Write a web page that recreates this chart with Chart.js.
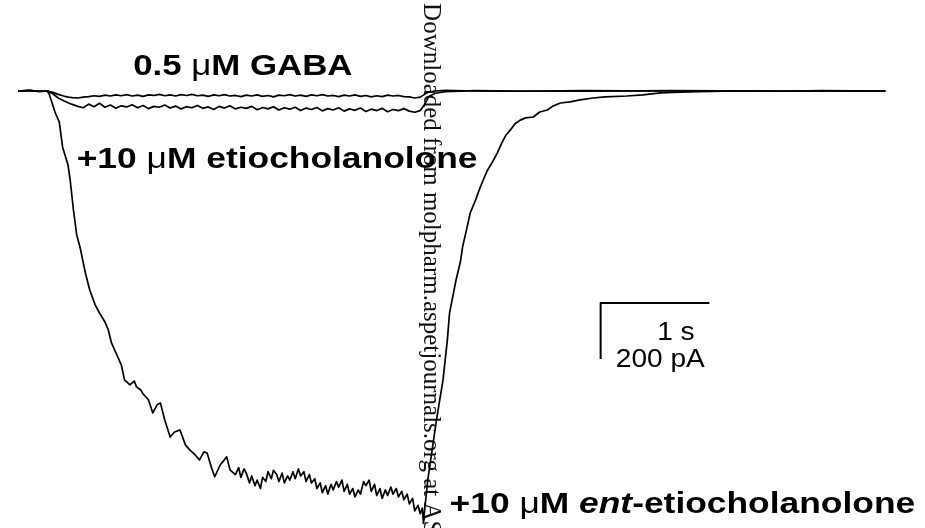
<!DOCTYPE html>
<html>
<head>
<meta charset="utf-8">
<script src="https://cdn.jsdelivr.net/npm/chart.js@4"></script>
<style>
  html,body{margin:0;padding:0;background:#fff;}
  #wrap{width:925px;height:528px;position:relative;}
</style>
</head>
<body>
<div id="wrap"><canvas id="traceChart"></canvas></div>
<script>
// sweep time (s) shared by the GABA and etiocholanolone traces
const sweepTime = [0,0.10,0.20,0.27,0.32,0.37,0.42,0.46,
  0.50,0.55,0.60,0.65,0.70,0.75,0.80,0.85,0.90,0.95,1.00,1.05,1.10,1.15,1.20,1.25,1.30,1.35,1.40,1.45,
  1.50,1.55,1.60,1.65,1.70,1.75,1.80,1.85,1.90,1.95,2.00,2.05,2.10,2.15,2.20,2.25,2.30,2.35,2.40,2.45,
  2.50,2.55,2.60,2.65,2.70,2.75,2.80,2.85,2.90,2.95,3.00,3.05,3.10,3.15,3.20,3.25,3.30,3.35,3.40,3.45,
  3.50,3.55,3.60,3.65,3.70,3.74,3.78,3.84,3.93,4.20,4.60,5.20,6.00,7.00,7.98];
// current (pA), 0.5 uM GABA alone
const gabaCurrent = [0,2,-1,0,-5,-12,-18,-22,
  -24,-25,-22,-20,-17,-19,-15,-18,-14,-17,-13,-18,-15,-19,-14,-16,-12,-17,-14,-18,
  -13,-16,-12,-17,-15,-19,-14,-17,-13,-18,-16,-20,-15,-18,-14,-19,-16,-21,-15,-17,
  -13,-18,-15,-19,-14,-17,-13,-18,-16,-20,-15,-18,-14,-19,-16,-21,-17,-20,-15,-18,
  -16,-20,-21,-25,-22,-12,-3,0,2,0,-1,1,0,-1,0];
// current (pA), + 10 uM etiocholanolone
const etioCurrent = [0,1,-1,0,-10,-25,-35,-42,
  -48,-55,-60,-47,-56,-44,-58,-50,-62,-53,-57,-49,-60,-52,-63,-55,-58,-50,-61,-54,
  -64,-56,-60,-52,-62,-57,-66,-55,-61,-53,-64,-58,-62,-55,-67,-59,-64,-56,-68,-60,
  -65,-58,-70,-61,-66,-59,-71,-63,-68,-60,-72,-64,-69,-61,-73,-65,-70,-62,-74,-66,
  -70,-63,-72,-76,-70,-48,-20,-8,-2,1,0,-1,1,0,0];
// + 10 uM ent-etiocholanolone sweep
const entTime = [0,0.11,0.20,0.27,0.29,0.34,0.38,0.41,0.46,0.48,0.51,0.54,0.57,0.62,0.66,0.71,0.75,0.80,0.83,
  0.86,0.91,0.95,0.98,1.03,1.07,1.09,1.13,1.15,1.20,1.24,1.28,1.31,1.35,1.40,1.44,1.49,1.54,1.58,1.63,
  1.67,1.71,1.74,1.78,1.81,1.86,1.92,1.95,
  2.00,2.03,2.05,2.08,2.10,2.13,2.15,2.18,2.20,2.23,2.25,2.28,2.30,2.33,2.35,2.38,2.40,2.43,2.45,2.48,
  2.50,2.53,2.55,2.58,2.60,2.63,2.65,2.68,2.70,2.73,2.75,2.78,2.80,2.83,2.85,2.88,2.90,2.93,2.95,2.98,
  3.00,3.03,3.05,3.08,3.10,3.13,3.15,3.18,3.20,3.23,3.25,3.28,3.30,3.33,3.35,3.38,3.40,3.43,3.45,3.48,
  3.50,3.53,3.55,3.58,3.60,3.63,3.65,3.68,3.70,3.72,3.73,3.74,
  3.77,3.81,3.85,3.91,3.95,3.97,4.03,4.07,4.09,4.13,4.16,4.21,
  4.25,4.28,4.32,4.36,4.41,4.45,4.49,4.53,4.57,4.62,4.67,4.74,4.80,4.87,4.92,4.99,5.08,5.17,5.29,5.40,
  5.60,5.75,5.91,6.09,6.27,6.60,7.00,7.40,7.98];
const entCurrent = [0,2,-2,0,-14,-75,-111,-200,-264,-318,-425,-514,-557,-650,-711,-764,-793,-825,-853,
  -900,-943,-978,-1032,-1050,-1036,-1057,-1068,-1082,-1103,-1150,-1121,-1114,-1175,-1236,-1218,-1211,-1264,-1282,-1300,
  -1318,-1289,-1293,-1346,-1378,-1336,-1307,-1353,
  -1370,-1345,-1380,-1350,-1365,-1400,-1375,-1410,-1390,-1420,-1380,-1395,-1360,-1385,-1355,-1370,-1395,-1365,-1400,-1375,
  -1390,-1360,-1385,-1350,-1375,-1360,-1395,-1370,-1400,-1385,-1420,-1400,-1435,-1410,-1440,-1405,-1425,-1395,-1415,-1390,
  -1430,-1405,-1440,-1420,-1450,-1425,-1440,-1395,-1410,-1390,-1430,-1405,-1445,-1420,-1455,-1425,-1445,-1415,-1440,-1420,
  -1450,-1430,-1460,-1440,-1475,-1455,-1500,-1480,-1510,-1490,-1545,-1500,
  -1389,-1282,-1175,-1032,-889,-793,-675,-610,-557,-489,-436,-389,
  -346,-318,-282,-257,-221,-186,-157,-139,-118,-104,-96,-93,-75,-68,-54,-43,-39,-32,-25,-21,
  -18,-14,-7,-4,-2,0,-1,1,0];
// scale bar: 200 pA vertical, 1 s horizontal
const scaleBarTime = [5.36,5.36,6.36];
const scaleBarCurrent = [-957,-757,-757];

function pairs(xs, ys){ return xs.map((v,i)=>({x:v, y:ys[i]})); }

function drawRuns(ctx, runs, px, py, sx){
  ctx.save();
  ctx.translate(px, py);
  ctx.scale(sx, 1);
  let cx = 0;
  runs.forEach(([txt, font])=>{
    ctx.font = font;
    ctx.fillText(txt, cx, 0);
    cx += ctx.measureText(txt).width;
  });
  ctx.restore();
}

const B = 'bold 29px "Liberation Sans", Arial, sans-serif';
const BI = 'italic bold 29px "Liberation Sans", Arial, sans-serif';
const MU = '29px "Liberation Sans", Arial, sans-serif';
const R = '26px "Liberation Sans", Arial, sans-serif';

const tracePlugin = {
  id: 'traceLabels',
  beforeDatasetsDraw(chart){
    const {ctx, scales:{x, y}} = chart;
    ctx.save();
    ctx.fillStyle = '#111';
    ctx.font = '25px "Liberation Serif", "Times New Roman", serif';
    ctx.textBaseline = 'alphabetic';
    ctx.translate(x.getPixelForValue(3.735), y.getPixelForValue(314));
    ctx.rotate(Math.PI/2);
    ctx.fillText('Downloaded from molpharm.aspetjournals.org at ASPET Journals on', 0, 0);
    ctx.restore();
  },
  afterDatasetsDraw(chart){
    const {ctx, scales:{x, y}} = chart;
    ctx.save();
    ctx.fillStyle = '#000';
    ctx.textBaseline = 'alphabetic';
    drawRuns(ctx, [['0.5 ', B], ['\u03bc', MU], ['M GABA', B]],
      x.getPixelForValue(1.06), y.getPixelForValue(57), 1.2);
    drawRuns(ctx, [['+10 ', B], ['\u03bc', MU], ['M etiocholanolone', B]],
      x.getPixelForValue(0.54), y.getPixelForValue(-275), 1.22);
    drawRuns(ctx, [['+10 ', B], ['\u03bc', MU], ['M ', B], ['ent', BI], ['-etiocholanolone', B]],
      x.getPixelForValue(3.97), y.getPixelForValue(-1507), 1.22);
    drawRuns(ctx, [['1 s', R]], x.getPixelForValue(5.88), y.getPixelForValue(-889), 1.08);
    drawRuns(ctx, [['200 pA', R]], x.getPixelForValue(5.50), y.getPixelForValue(-986), 1.08);
    ctx.restore();
  }
};

function traceSet(points, width){
  return { data: points, borderColor: '#000', borderWidth: width, pointRadius: 0,
    fill: false, tension: 0, borderJoinStyle: 'round' };
}

DocumentReady(function(){
  const el = document.getElementById('traceChart');
  new Chart(el, {
    type: 'line',
    data: {
      datasets: [
        traceSet(pairs(sweepTime, gabaCurrent), 1.7),
        traceSet(pairs(sweepTime, etioCurrent), 1.7),
        traceSet(pairs(entTime, entCurrent), 1.7),
        traceSet(pairs(scaleBarTime, scaleBarCurrent), 2)
      ]
    },
    options: {
      responsive: true,
      maintainAspectRatio: false,
      animation: false,
      layout: { padding: 0 },
      plugins: { legend: { display:false }, tooltip: { enabled:false } },
      scales: {
        x: { type:'linear', display:false, min:-0.1656, max:8.344 },
        y: { type:'linear', display:false, min:-1561, max:325 }
      }
    },
    plugins: [tracePlugin]
  });
});

function DocumentReady(cb){
  if(document.readyState!=='loading')cb();
  else document.addEventListener('DOMContentLoaded',cb);
}
</script>
</body>
</html>
